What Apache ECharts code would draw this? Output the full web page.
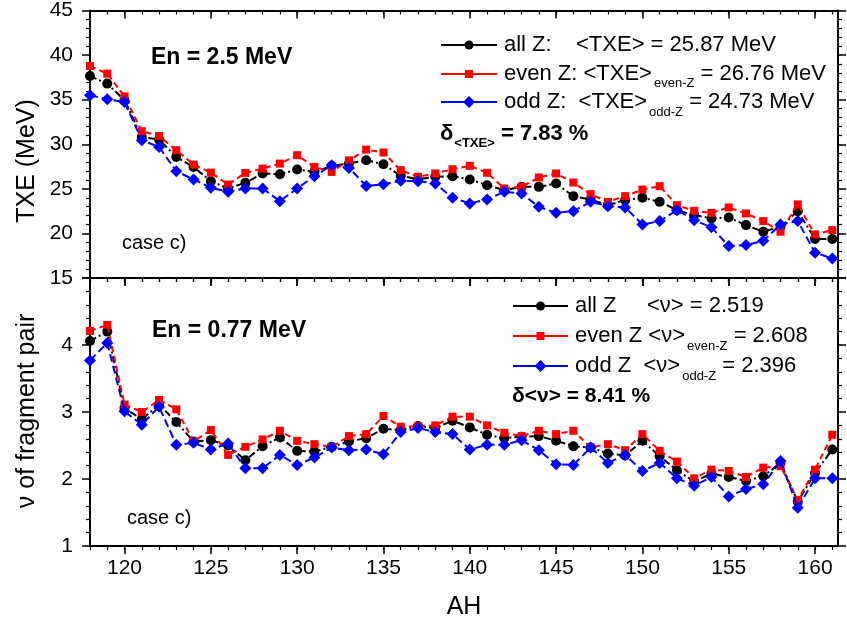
<!DOCTYPE html>
<html>
<head>
<meta charset="utf-8">
<script src="https://cdn.jsdelivr.net/npm/echarts@6/dist/echarts.min.js"></script>
<style>
  html, body { margin: 0; padding: 0; background: #fff; }
  #chart { width: 847px; height: 631px; }
</style>
</head>
<body>
<div id="chart"></div>
<script>
// Heavy fragment mass number
const AH = [118,119,120,121,122,123,124,125,126,127,128,129,130,131,132,133,134,135,136,137,138,139,
            140,141,142,143,144,145,146,147,148,149,150,151,152,153,154,155,156,157,158,159,160,161];

// Total excitation energy TXE (MeV), En = 2.5 MeV
const txeAllZ = [37.65,36.80,34.95,30.82,30.52,28.58,27.46,25.86,25.04,25.67,26.72,26.64,27.16,26.90,27.57,27.84,28.20,27.76,26.46,26.08,26.35,26.42,
                 26.05,25.41,24.85,25.22,25.22,25.60,24.18,23.80,23.17,23.73,23.99,23.54,22.61,22.05,21.68,21.79,20.93,20.19,20.75,22.50,19.37,19.37];
const txeEvenZ = [38.77,37.92,35.37,31.46,30.93,29.33,27.72,26.82,25.48,26.79,27.27,27.83,28.77,27.46,26.90,28.20,29.40,29.07,27.09,26.35,26.72,27.20,
                  27.58,26.80,25.04,25.22,26.27,26.72,25.71,24.40,23.54,24.18,24.92,25.30,23.17,22.53,22.31,22.91,22.24,21.38,20.19,23.25,19.89,20.37];
const txeOddZ = [35.49,35.04,34.74,30.45,29.70,26.98,26.05,25.11,24.67,25.04,25.04,23.62,25.04,26.42,27.65,27.35,25.33,25.52,25.90,25.86,25.60,23.99,
                 23.36,23.81,24.66,24.48,22.98,22.31,22.50,23.54,23.06,22.91,21.00,21.38,22.61,21.49,20.68,18.58,18.69,19.18,21.00,21.38,17.84,17.20];

// Neutron multiplicity of the fragment pair, En = 0.77 MeV
const nuAllZ = [4.06,4.20,3.06,2.89,3.11,2.85,2.56,2.58,2.50,2.28,2.49,2.62,2.42,2.41,2.48,2.56,2.61,2.75,2.73,2.79,2.76,2.87,
                2.77,2.66,2.61,2.63,2.64,2.57,2.49,2.47,2.38,2.35,2.57,2.34,2.13,1.96,2.08,2.03,1.97,2.04,2.24,1.66,2.09,2.44];
const nuEvenZ = [4.21,4.30,3.11,3.00,3.18,3.04,2.56,2.73,2.36,2.48,2.59,2.72,2.57,2.52,2.48,2.64,2.67,2.94,2.78,2.79,2.80,2.93,
                 2.93,2.80,2.69,2.64,2.72,2.67,2.72,2.47,2.52,2.43,2.67,2.42,2.26,2.01,2.14,2.12,2.03,2.17,2.19,1.69,2.14,2.66];
const nuOddZ = [3.77,4.03,3.01,2.81,3.08,2.51,2.54,2.44,2.53,2.16,2.16,2.36,2.21,2.32,2.47,2.43,2.44,2.37,2.70,2.76,2.70,2.67,
                2.44,2.51,2.51,2.58,2.43,2.22,2.21,2.47,2.24,2.36,2.12,2.24,2.01,1.90,2.03,1.74,1.85,1.92,2.27,1.57,2.01,2.01];

// Tick positions on the AH axis
const xMajorTicks = [120,125,130,135,140,145,150,155,160];
const xMinorTicks = [118,119,120,121,122,123,124,125,126,127,128,129,130,131,132,133,134,135,136,137,138,139,
                     140,141,142,143,144,145,146,147,148,149,150,151,152,153,154,155,156,157,158,159,160,161];
const txeTicks = [15,20,25,30,35,40,45];
const nuTicks = [1,2,3,4];

const FONT = '"Liberation Sans", Arial, sans-serif';
const X_MIN = 118, X_MAX = 161.33;
const GRID_LEFT = 90, GRID_W = 748;
const LEG = 22;   // legend text size

function pairs(ys) { return AH.map((a, i) => [a, ys[i]]); }

function xAxisSet(gridIndex, position, major, showLabels) {
  const inside = position === 'top';
  const base = {
    type: 'value', gridIndex, position, min: X_MIN, max: X_MAX,
    splitLine: { show: false }
  };
  return [
    Object.assign({}, base, {
      axisLine: { show: true, onZero: false, lineStyle: { color: '#000', width: 2 } },
      axisTick: { show: true, inside, length: 8, customValues: major, lineStyle: { color: '#000', width: 1.5 } },
      axisLabel: showLabels
        ? { show: true, customValues: major, margin: 12, color: '#000', fontSize: 21, fontFamily: FONT }
        : { show: false }
    }),
    Object.assign({}, base, {
      axisLine: { show: false, onZero: false },
      axisTick: { show: true, inside, length: 4, customValues: xMinorTicks, lineStyle: { color: '#000', width: 1.2 } },
      axisLabel: { show: false }
    })
  ];
}

function yAxisSet(gridIndex, min, max, interval, showMax) {
  const common = {
    type: 'value', gridIndex, min, max, interval,
    splitLine: { show: false },
    axisLine: { show: true, onZero: false, lineStyle: { color: '#000', width: 2 } },
    minorTick: { show: true, splitNumber: 5, length: 4, lineStyle: { color: '#000', width: 1.2 } }
  };
  return [
    Object.assign({}, common, {
      position: 'left',
      axisTick: { show: true, inside: false, length: 8, lineStyle: { color: '#000', width: 1.5 } },
      axisLabel: { show: true, margin: 17, color: '#000', fontSize: 21, fontFamily: FONT,
                   showMaxLabel: showMax, showMinLabel: true }
    }),
    Object.assign({}, common, {
      position: 'right',
      axisTick: { show: true, inside: false, length: 8, lineStyle: { color: '#000', width: 1.5 } },
      axisLabel: { show: false }
    })
  ];
}

function lineSeries(name, data, xi, yi, color, symbol, size, dash, z) {
  return {
    name, type: 'line', xAxisIndex: xi, yAxisIndex: yi, data: pairs(data),
    symbol, symbolSize: size, showSymbol: true, z,
    lineStyle: { color, width: 2, type: dash },
    itemStyle: { color, borderWidth: 0 },
    emphasis: { disabled: true },
    animation: false
  };
}

const DASH_ALL = [7, 3, 2, 3];
const DASH_EVEN = [6, 4];
const DASH_ODD = [8, 4];

function txt(x, y, text, size, opts) {
  return {
    type: 'text', x, y, silent: true,
    style: Object.assign({
      text, fill: '#000', fontSize: size, fontFamily: FONT,
      textAlign: 'left', textVerticalAlign: 'middle'
    }, opts || {})
  };
}

// Lay out a run of text pieces (with subscripts) left to right from x
const measureCtx = document.createElement('canvas').getContext('2d');
function textWidth(s, size, bold) {
  measureCtx.font = (bold ? 'bold ' : '') + size + 'px ' + FONT;
  return measureCtx.measureText(s).width;
}
function textRun(x, y, pieces) {
  const out = [];
  let cx = x;
  pieces.forEach(p => {
    const size = p.size || LEG;
    cx += p.gap || 0;
    out.push(txt(cx, y + (p.dy || 0), p.text, size, p.bold ? { fontWeight: 'bold' } : null));
    cx += textWidth(p.text, size, p.bold);
  });
  return out;
}

function legendKey(x0, x1, y, color, shape) {
  const xm = (x0 + x1) / 2;
  const items = [{
    type: 'line', silent: true,
    shape: { x1: x0, y1: y, x2: x1, y2: y },
    style: { stroke: color, lineWidth: 2 }
  }];
  if (shape === 'circle') {
    items.push({ type: 'circle', silent: true, shape: { cx: xm, cy: y, r: 4.5 }, style: { fill: color } });
  } else if (shape === 'rect') {
    items.push({ type: 'rect', silent: true, shape: { x: xm - 4, y: y - 4, width: 8, height: 8 }, style: { fill: color } });
  } else {
    items.push({ type: 'polygon', silent: true,
      shape: { points: [[xm, y - 6], [xm + 6, y], [xm, y + 6], [xm - 6, y]] }, style: { fill: color } });
  }
  return items;
}

const BLACK = '#000000', RED = '#ff0000', BLUE = '#0000ff';

const graphics = [].concat(
  // axis titles
  [
    Object.assign(txt(27, 161, 'TXE (MeV)', 25, { textAlign: 'center' }), { rotation: Math.PI / 2 }),
    Object.assign(txt(27, 411, 'ν of fragment pair', 25, { textAlign: 'center' }), { rotation: Math.PI / 2 }),
    txt(464, 607, 'AH', 25, { textAlign: 'center' })
  ],
  // top panel annotations
  [
    txt(151, 58, 'En = 2.5 MeV', 23, { fontWeight: 'bold' }),
    txt(122, 243, 'case c)', 20)
  ],
  legendKey(441, 497, 45, BLACK, 'circle'),
  legendKey(441, 497, 74, RED, 'rect'),
  legendKey(441, 497, 102, BLUE, 'diamond'),
  [
    txt(504, 45, 'all Z:', LEG),
    txt(576, 45, '<TXE> = 25.87 MeV', LEG)
  ],
  textRun(504, 74, [
    { text: 'even Z: <TXE>' },
    { text: 'even-Z', size: 13, dy: 9, gap: 2 },
    { text: ' = 26.76 MeV' }
  ]),
  textRun(504, 102, [
    { text: 'odd Z:  <TXE>' },
    { text: 'odd-Z', size: 13, dy: 10, gap: 2 },
    { text: ' = 24.73 MeV' }
  ]),
  textRun(440, 134, [
    { text: 'δ', size: 22, bold: true },
    { text: '<TXE>', size: 13, bold: true, dy: 9, gap: 1 },
    { text: ' = 7.83 %', bold: true }
  ]),
  // bottom panel annotations
  [
    txt(152, 331, 'En = 0.77 MeV', 23, { fontWeight: 'bold' }),
    txt(127, 518, 'case c)', 20)
  ],
  legendKey(513, 568, 306, BLACK, 'circle'),
  legendKey(513, 568, 336, RED, 'rect'),
  legendKey(513, 568, 366, BLUE, 'diamond'),
  [
    txt(575, 306, 'all Z', LEG),
    txt(647, 306, '<ν> = 2.519', LEG)
  ],
  textRun(575, 336, [
    { text: 'even Z <ν>' },
    { text: 'even-Z', size: 13, dy: 10, gap: 2 },
    { text: ' = 2.608' }
  ]),
  textRun(575, 366, [
    { text: 'odd Z  <ν>' },
    { text: 'odd-Z', size: 13, dy: 10, gap: 2 },
    { text: ' = 2.396' }
  ]),
  [
    txt(512, 396, 'δ<ν> = 8.41 %', 21, { fontWeight: 'bold' })
  ]
);

const xAxes = [].concat(
  xAxisSet(0, 'bottom', xMajorTicks, false),   // 0,1
  xAxisSet(0, 'top', xMajorTicks, false),      // 2,3
  xAxisSet(1, 'bottom', xMajorTicks, true),    // 4,5
  xAxisSet(1, 'top', xMajorTicks, false)       // 6,7
);
const yAxes = [].concat(
  yAxisSet(0, txeTicks[0], txeTicks[txeTicks.length - 1], 5, true),  // 0,1
  yAxisSet(1, nuTicks[0], 5, 1, false)                               // 2,3
);

const chart = echarts.init(document.getElementById('chart'), null, { renderer: 'canvas' });
chart.setOption({
  animation: false,
  backgroundColor: '#fff',
  grid: [
    { left: GRID_LEFT, width: GRID_W, top: 10, height: 268 },
    { left: GRID_LEFT, width: GRID_W, top: 278, height: 268 }
  ],
  xAxis: xAxes,
  yAxis: yAxes,
  series: [
    lineSeries('all Z', txeAllZ, 0, 0, BLACK, 'circle', 10, DASH_ALL, 2),
    lineSeries('even Z', txeEvenZ, 0, 0, RED, 'rect', 8, DASH_EVEN, 3),
    lineSeries('odd Z', txeOddZ, 0, 0, BLUE, 'diamond', 12, DASH_ODD, 4),
    lineSeries('all Z ν', nuAllZ, 4, 2, BLACK, 'circle', 10, DASH_ALL, 2),
    lineSeries('even Z ν', nuEvenZ, 4, 2, RED, 'rect', 8, DASH_EVEN, 3),
    lineSeries('odd Z ν', nuOddZ, 4, 2, BLUE, 'diamond', 12, DASH_ODD, 4)
  ],
  graphic: graphics
});
</script>
</body>
</html>
